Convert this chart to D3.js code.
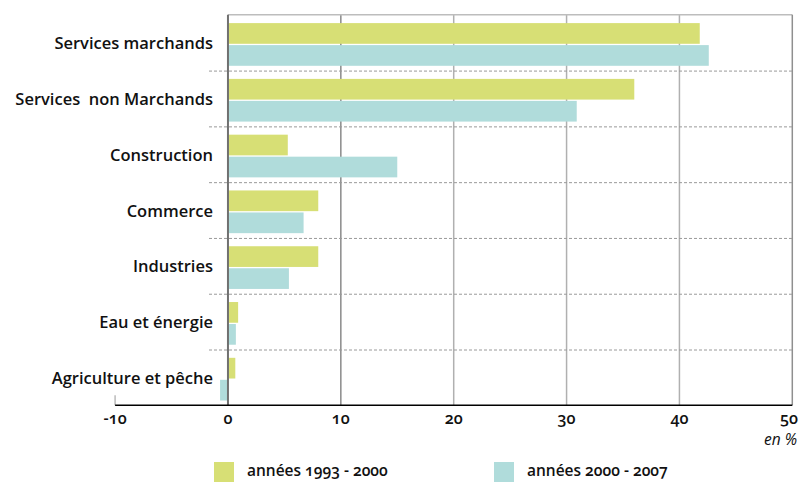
<!DOCTYPE html>
<html><head><meta charset="utf-8">
<script src="https://cdn.jsdelivr.net/npm/d3@7"></script>
<style>
body{margin:0;background:#fff;}
svg text{font-family:"Open Sans",sans-serif;fill:#111;font-variant-numeric:oldstyle-nums;}
</style></head>
<body><svg id="c" width="799" height="484"></svg>
<script>
const categories = ["Services marchands","Services  non Marchands","Construction","Commerce","Industries","Eau et énergie","Agriculture et pêche"];
const series1993 = [41.8, 36.0, 5.3, 8.0, 8.0, 0.9, 0.65];
const series2000 = [42.6, 30.9, 15.0, 6.7, 5.4, 0.7, -0.7];
const seriesNames = ["années 1993 - 2000","années 2000 - 2007"];
const tickValues = [-10, 0, 10, 20, 30, 40, 50];
const colors = ["#d7df75","#b0dcdb"];

const svg = d3.select("#c");
const x = d3.scaleLinear().domain([-10,50]).range([115.1,792.3]);
const y = d3.scaleBand().domain(categories).range([14.8,405.3]);
const step = y.step();
const yTop = y.range()[0], yBot = y.range()[1];

// gridlines
svg.append("g").selectAll("line").data(tickValues.filter(v=>v>0&&v<50)).join("line")
  .attr("x1",d=>x(d)).attr("x2",d=>x(d)).attr("y1",yTop).attr("y2",yBot)
  .attr("stroke",(d)=>d===10?"#8a8a8a":"#b0b0b0").attr("stroke-width",1.5);
// top border
svg.append("line").attr("x1",x(0)).attr("x2",x(50)).attr("y1",yTop).attr("y2",yTop)
  .attr("stroke","#bdbdbd").attr("stroke-width",1.5);
// right border
svg.append("line").attr("x1",x(50)).attr("x2",x(50)).attr("y1",yTop).attr("y2",yBot)
  .attr("stroke","#8f8f8f").attr("stroke-width",1.5);
// separators
svg.append("g").selectAll("line").data(categories.slice(1)).join("line")
  .attr("x1",209).attr("x2",x(50)).attr("y1",d=>y(d)+0.5).attr("y2",d=>y(d)+0.5)
  .attr("stroke","#9a9a9a").attr("stroke-width",1).attr("stroke-dasharray","3,2");

// bars
const barH = 20.7;
const data = categories.map((c,i)=>({c, v:[series1993[i], series2000[i]]}));
const g = svg.append("g");
[0,1].forEach(s=>{
  g.selectAll(".b"+s).data(data).join("rect").attr("class","b"+s)
    .attr("x",d=>x(Math.min(0,d.v[s])))
    .attr("width",d=>Math.abs(x(d.v[s])-x(0)))
    .attr("y",d=>y(d.c)+8.3+s*(barH+1.3))
    .attr("height",barH)
    .attr("fill",colors[s]);
});

// y axis at 0
svg.append("line").attr("x1",x(0)).attr("x2",x(0)).attr("y1",yTop).attr("y2",yBot)
  .attr("stroke","#707070").attr("stroke-width",2);
// -10 small tick
svg.append("line").attr("x1",x(-10)).attr("x2",x(-10)).attr("y1",yBot-10).attr("y2",yBot)
  .attr("stroke","#bbb").attr("stroke-width",1.5);
// bottom axis
svg.append("line").attr("x1",x(-10)).attr("x2",x(50)).attr("y1",yBot).attr("y2",yBot)
  .attr("stroke","#000").attr("stroke-width",1.5);

// tick labels
svg.append("g").selectAll("text").data(tickValues).join("text")
  .attr("x",d=>d===50?798:x(d)).attr("y",yBot+19)
  .attr("text-anchor",d=>d===50?"end":"middle").attr("font-size",16).attr("font-weight",600)
  .text(d=>d);

// category labels
svg.append("g").selectAll("text").data(categories).join("text")
  .attr("x",213).attr("y",d=>y(d)+30).attr("dominant-baseline","middle")
  .attr("text-anchor","end").attr("font-size",16.5).attr("font-weight",600)
  .attr("xml:space","preserve").style("white-space","pre")
  .text(d=>d);

// unit
svg.append("text").attr("x",797).attr("y",445).attr("text-anchor","end")
  .attr("font-size",15.5).attr("font-style","italic").text("en %");

// legend
const legX = [214, 494];
seriesNames.forEach((n,i)=>{
  svg.append("rect").attr("x",legX[i]).attr("y",462).attr("width",20).attr("height",20).attr("fill",colors[i]);
  svg.append("text").attr("x",legX[i]+33).attr("y",472).attr("dominant-baseline","middle")
    .attr("font-size",15.5).attr("font-weight",600).text(n);
});
</script></body></html>
